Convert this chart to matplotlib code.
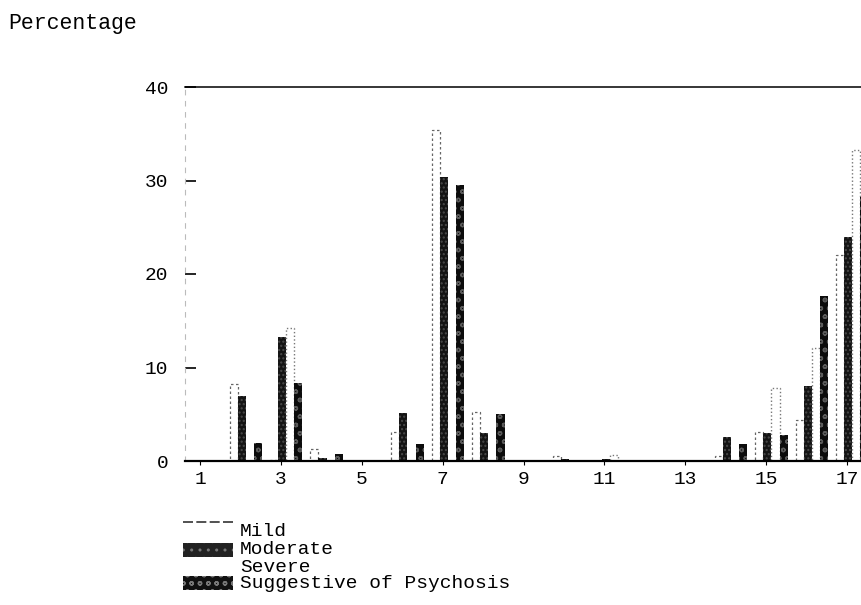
import numpy as np
import matplotlib.pyplot as plt
from matplotlib.patches import Rectangle
from matplotlib.lines import Line2D

# percentage of cases per item, by severity group
items = np.arange(1, 18)
mild = [0, 8.2, 0.1, 1.3, 0, 3.1, 35.4, 5.2, 0, 0.5, 0, 0, 0, 0.5, 3.1, 4.4, 22.0]
moderate = [0, 7.0, 13.3, 0.3, 0, 5.1, 30.4, 3.0, 0, 0.2, 0.2, 0, 0.1, 2.6, 3.0, 8.0, 24.0]
severe = [0, 0, 14.2, 0, 0, 0, 0, 0, 0, 0, 0.6, 0, 0, 0, 7.8, 12.1, 33.3]
psychosis = [0, 1.9, 8.3, 0.8, 0, 1.8, 29.5, 5.0, 0, 0, 0, 0, 0, 1.8, 2.8, 17.6, 28.2]

ytick_vals = [0, 10, 20, 30, 40]
xtick_vals = [1, 3, 5, 7, 9, 11, 13, 15, 17]

W, H = 862, 605
mono = "Liberation Mono"
plt.rcParams["font.family"] = mono
plt.rcParams["hatch.linewidth"] = 1.0

fig = plt.figure(figsize=(W / 100, H / 100), dpi=100)
# axes run past the right edge of the page on purpose
ax = fig.add_axes([185 / W, (H - 461) / H, 783 / W, 374 / H])

bw = 0.2
x = items.astype(float)
ax.bar(x - 0.17, mild, bw, facecolor="white", edgecolor="#666666",
       linewidth=0.9, linestyle=(0, (2, 2)))
ax.bar(x + 0.03, moderate, bw, facecolor="#141414", edgecolor="#4a4a4a",
       linewidth=0, hatch="....")
ax.bar(x + 0.23, severe, bw, facecolor="white", edgecolor="#777777",
       linewidth=1.0, linestyle=":")
ax.bar(x + 0.43, psychosis, bw, facecolor="#0c0c0c", edgecolor="#5a5a5a",
       linewidth=0, hatch="oo")

ax.set_xlim(1 - 15 / 40.44, 1 + 783 / 40.44 - 15 / 40.44)
ax.set_ylim(0, 40)
ax.set_yticks(ytick_vals)
ax.set_xticks(xtick_vals)
ax.tick_params(axis="y", direction="in", length=8, width=1.2, labelsize=14, pad=12)
ax.tick_params(axis="x", direction="out", length=3, width=0.8, labelsize=14, pad=4)

ax.spines["left"].set_linestyle((0, (4, 6)))
ax.spines["left"].set_color("#bbbbbb")
ax.spines["left"].set_linewidth(0.8)
ax.spines["right"].set_visible(False)
ax.spines["top"].set_linewidth(1.1)
ax.spines["bottom"].set_linewidth(1.6)

fig.text(8 / W, 1 - 24 / H, "Percentage", fontsize=15.5, va="center", ha="left")


def fx(px):
    return px / W


def fy(py):
    return 1 - py / H


# legend, drawn by hand
fig.add_artist(Line2D([fx(183), fx(233)], [fy(522), fy(522)], color="#333333",
                      linewidth=1.2, linestyle=(0, (6, 2))))
fig.add_artist(Rectangle((fx(183), fy(557)), 50 / W, 14 / H, facecolor="#222222",
                         edgecolor="#777777", linewidth=0, hatch="..",
                         transform=fig.transFigure))
fig.add_artist(Rectangle((fx(183), fy(590)), 50 / W, 14 / H, facecolor="#111111",
                         edgecolor="#777777", linewidth=0, hatch="oo",
                         transform=fig.transFigure))
labels = ["Mild", "Moderate", "Severe", "Suggestive of Psychosis"]
ys = [531, 550, 567, 583]
for lab, yy in zip(labels, ys):
    fig.text(fx(240), fy(yy), lab, fontsize=14, va="center", ha="left")

fig.savefig("out.png", dpi=100)
